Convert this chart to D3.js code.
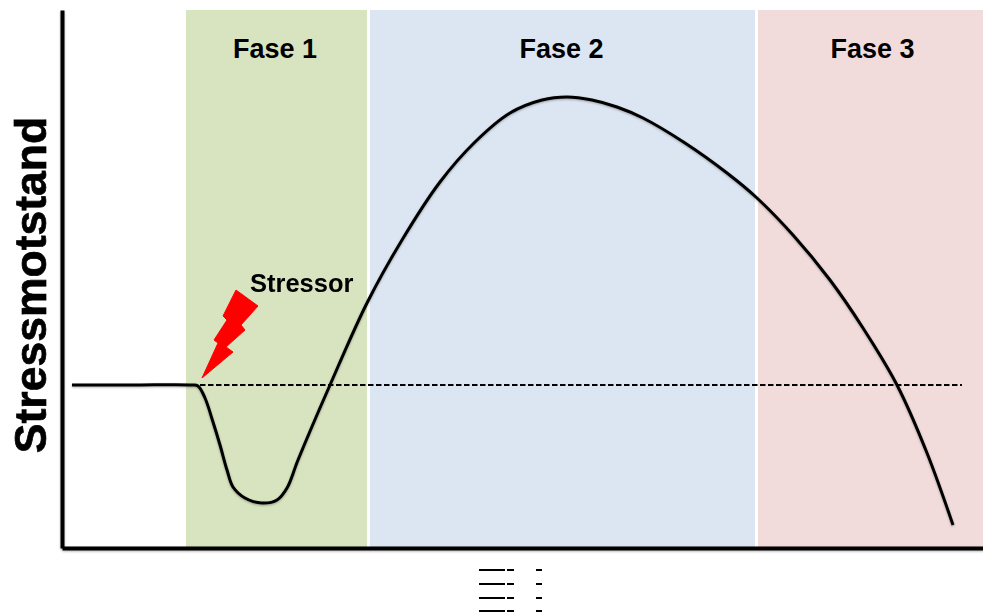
<!DOCTYPE html>
<html>
<head>
<meta charset="utf-8">
<script src="https://cdn.jsdelivr.net/npm/d3@7"></script>
<style>
    html, body { margin: 0; padding: 0; background: #fff; }
    svg { display: block; }
    text { font-family: "Liberation Sans", Arial, sans-serif; font-weight: bold; fill: #000; }
</style>
</head>
<body>
<script>
(function() {
    "use strict";

    //phases: name, start and end on the time axis
    var phaseNames = ["Fase 1", "Fase 2", "Fase 3"];
    var phaseStarts = [124, 308, 696];
    var phaseEnds = [305, 693, 921];
    var phaseColors = ["#d8e3bf", "#dce6f2", "#f2dcdb"];

    //the resistance curve
    var curveTime = [10, 70, 130, 136, 143, 151, 158, 165, 171, 183, 200, 215, 225, 236, 268, 305, 340, 378, 413, 448, 480, 505, 530, 555, 581, 623, 665, 695, 731, 768, 801, 835, 865, 891];
    var curveLevel = [163, 163, 163, 162, 150, 126, 103, 78, 61, 50, 45, 48, 60, 88, 163, 245, 308, 366, 406, 435, 448, 451, 448, 441, 430, 405, 375, 350, 313, 268, 220, 163, 95, 23];

    //normal resistance level, dashed
    var baselineTime = [138, 900];
    var baselineLevel = 163;

    //lightning bolt outline
    var boltTime = [174, 196, 179, 183, 164, 171, 140, 156, 152, 165, 161];
    var boltLevel = [258, 242, 223, 218, 201, 196, 170, 205, 208, 228, 232];

    //remains of the cut off axis label
    var labelRows = [22, 36, 50, 63];
    var labelStarts = [417, 445, 474];
    var labelEnds = [443, 452, 480];

    var WIDTH = 983;
    var HEIGHT = 613;

    var x = d3.scaleLinear().domain([0, 921]).range([62, 983]);
    var y = d3.scaleLinear().domain([-65, 538]).range([613, 10]);

    var svg = d3.select("body").append("svg")
        .attr("width", WIDTH)
        .attr("height", HEIGHT);

    //soft grey edge around the black lines
    var shadow = svg.append("defs").append("filter")
        .attr("id", "soft")
        .attr("x", "-5%").attr("y", "-5%")
        .attr("width", "110%").attr("height", "110%");
    shadow.append("feDropShadow")
        .attr("dx", 0).attr("dy", 1)
        .attr("stdDeviation", 1.2)
        .attr("flood-color", "#000")
        .attr("flood-opacity", 0.3);

    //phase bands
    svg.selectAll("rect.phase")
        .data(phaseNames)
        .enter()
        .append("rect")
        .attr("class", "phase")
        .attr("x", function(d, i) { return x(phaseStarts[i]); })
        .attr("y", y(538))
        .attr("width", function(d, i) { return x(phaseEnds[i]) - x(phaseStarts[i]); })
        .attr("height", y(0) - y(538))
        .attr("fill", function(d, i) { return phaseColors[i]; });

    //labels sit a little off the band centres in the original
    var labelNudge = [-1.5, -1, 2];
    svg.selectAll("text.phase")
        .data(phaseNames)
        .enter()
        .append("text")
        .attr("class", "phase")
        .attr("x", function(d, i) { return x((phaseStarts[i] + phaseEnds[i]) / 2) + labelNudge[i]; })
        .attr("y", y(490))
        .attr("text-anchor", "middle")
        .attr("font-size", 27)
        .text(function(d) { return d; });

    //axes, no ticks on either
    var axisGroup = svg.append("g").attr("filter", "url(#soft)");
    axisGroup.append("g")
        .attr("transform", "translate(" + x(0) + ",0)")
        .call(d3.axisLeft(y.copy().domain([0, 538]).range([y(0), y(538)])).tickValues([]).tickSizeOuter(0));
    axisGroup.append("g")
        .attr("transform", "translate(0," + y(0) + ")")
        .call(d3.axisBottom(x).tickValues([]).tickSizeOuter(0));
    axisGroup.selectAll("path.domain")
        .attr("stroke", "#000")
        .attr("stroke-width", 4);

    //dashed baseline
    svg.append("line")
        .attr("x1", x(baselineTime[0]))
        .attr("x2", x(baselineTime[1]))
        .attr("y1", y(baselineLevel))
        .attr("y2", y(baselineLevel))
        .attr("stroke", "#000")
        .attr("stroke-width", 2)
        .attr("stroke-dasharray", "5.5,2.5");

    //resistance curve
    var curvePoints = d3.zip(curveTime, curveLevel);
    var curveLine = d3.line()
        .x(function(d) { return x(d[0]); })
        .y(function(d) { return y(d[1]); })
        .curve(d3.curveCatmullRom.alpha(0.5));

    svg.append("path")
        .attr("d", curveLine(curvePoints))
        .attr("fill", "none")
        .attr("stroke", "#000")
        .attr("stroke-width", 3)
        .attr("filter", "url(#soft)");

    //lightning bolt
    var boltLine = d3.line()
        .x(function(d) { return x(d[0]); })
        .y(function(d) { return y(d[1]); })
        .curve(d3.curveLinearClosed);

    svg.append("path")
        .attr("d", boltLine(d3.zip(boltTime, boltLevel)))
        .attr("fill", "#ff0000")
        .attr("stroke", "#ff0000")
        .attr("stroke-width", 1)
        .attr("stroke-linejoin", "round");

    svg.append("text")
        .attr("x", x(188))
        .attr("y", y(256))
        .attr("font-size", 25.5)
        .text("Stressor");

    //y axis title, a bit heavier than plain bold
    svg.append("text")
        .attr("transform", "translate(" + 46 + "," + y(263) + ") rotate(-90)")
        .attr("text-anchor", "middle")
        .attr("font-size", 44.5)
        .attr("stroke", "#000")
        .attr("stroke-width", 0.7)
        .text("Stressmotstand");

    //clipped axis label dashes
    labelRows.forEach(function(row) {
        svg.selectAll(null)
            .data(labelStarts)
            .enter()
            .append("line")
            .attr("x1", function(d) { return x(d); })
            .attr("x2", function(d, i) { return x(labelEnds[i]); })
            .attr("y1", y(-row))
            .attr("y2", y(-row))
            .attr("stroke", "#000")
            .attr("stroke-width", 2);
    });
}());
</script>
</body>
</html>
